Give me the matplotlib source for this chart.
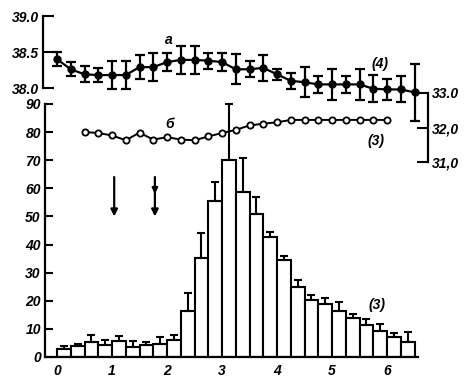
import matplotlib
matplotlib.use("Agg")
from matplotlib import pyplot as plt
import numpy as np

# bars (3): counts per quarter-unit interval, with upper error
bar_left = np.arange(26) * 0.25
bar_height = [3.0, 3.8, 5.2, 4.4, 5.8, 3.5, 4.2, 4.7, 6.2, 16.3, 35.3, 55.5, 70.0,
              58.8, 51.0, 42.8, 34.4, 24.8, 20.3, 18.7, 16.3, 13.7, 11.4, 9.1, 7.0, 5.2]
bar_err = [1.0, 1.0, 2.6, 1.8, 1.5, 2.1, 1.0, 2.4, 1.6, 6.4, 8.7, 6.7, 20.0,
           12.1, 6.0, 1.7, 1.6, 2.5, 1.6, 2.2, 3.2, 1.5, 2.0, 2.5, 1.7, 3.6]

# curve a (4): left upper scale, 38-39
a_x = np.arange(27) * 0.25
a_y = [38.40, 38.26, 38.19, 38.18, 38.18, 38.18, 38.29, 38.29, 38.36, 38.39, 38.39,
       38.38, 38.36, 38.26, 38.26, 38.28, 38.19, 38.10, 38.08, 38.05, 38.05, 38.05,
       38.05, 37.99, 37.98, 37.98, 37.94]
a_err = [0.10, 0.10, 0.11, 0.10, 0.19, 0.20, 0.17, 0.19, 0.12, 0.19, 0.20, 0.11,
         0.12, 0.21, 0.11, 0.18, 0.08, 0.11, 0.21, 0.12, 0.22, 0.12, 0.21, 0.19,
         0.14, 0.18, 0.40]

# curve b (3): right scale, 31-33
b_x = 0.5 + np.arange(23) * 0.25
b_y = [31.87, 31.84, 31.77, 31.63, 31.85, 31.65, 31.72, 31.65, 31.63, 31.74, 31.84,
       31.93, 32.06, 32.11, 32.15, 32.22, 32.22, 32.22, 32.22, 32.22, 32.22, 32.22, 32.22]

arrow_x = [1.04, 1.78]

W, H = 466, 379
X0, PX = 57, 55.0   # pixel of x=0, pixels per unit
font = dict(family="Liberation Sans", style="italic", weight="bold", size=10)


def add_ax(left, right, top, bottom):
    ax = fig.add_axes([left / W, 1 - bottom / H, (right - left) / W, (bottom - top) / H])
    ax.set_xlim((left - X0) / PX, (right - X0) / PX)
    ax.patch.set_alpha(0)
    return ax


fig = plt.figure(figsize=(W / 100, H / 100), dpi=100)

# bottom panel
ax = add_ax(45, 418, 104, 357)
ax.set_ylim(0, 90)
ax.bar(bar_left, bar_height, width=0.25, align="edge", color="white",
       edgecolor="black", linewidth=1.5, zorder=2)
ax.errorbar(bar_left + 0.125, bar_height, yerr=[np.zeros(26), bar_err], fmt="none",
            ecolor="black", elinewidth=1.5, capsize=3, capthick=1.5, clip_on=False, zorder=3)
for s in ["top", "right"]:
    ax.spines[s].set_visible(False)
for s in ["left", "bottom"]:
    ax.spines[s].set_linewidth(1.6)
ax.set_yticks(range(0, 91, 10))
ax.set_xticks(range(0, 7))
ax.tick_params(axis="y", direction="in", length=6, width=1.5, pad=3)
ax.tick_params(axis="x", direction="in", length=0, width=1.5, pad=5)
for lab in ax.get_xticklabels() + ax.get_yticklabels():
    lab.set(**font)
for xa in arrow_x:
    ax.annotate("", xy=(xa, 49), xytext=(xa, 65),
                arrowprops=dict(arrowstyle="-|>", color="black", lw=1.6, mutation_scale=10))
ax.annotate("", xy=(arrow_x[1], 57), xytext=(arrow_x[1], 62),
            arrowprops=dict(arrowstyle="-|>", color="black", lw=1.6, mutation_scale=8))
ax.text(2.05, 83, "б", ha="center", va="center", **font)
ax.text(5.8, 77, "(3)", ha="center", va="center", **font)
ax.text(5.82, 18.5, "(3)", ha="center", va="center", **font)

# upper panel, curve a
ax1 = add_ax(43, 418, 16, 88)
ax1.set_ylim(38, 39)
ax1.errorbar(a_x, a_y, yerr=a_err, fmt="-o", color="black", ms=5, lw=1.6,
             elinewidth=1.6, capsize=3.5, capthick=1.6, clip_on=False)
for s in ["top", "right", "bottom"]:
    ax1.spines[s].set_visible(False)
ax1.spines["left"].set_linewidth(1.6)
ax1.set_xticks([])
ax1.set_yticks([38, 38.5, 39])
ax1.set_yticklabels(["38.0", "38.5", "39.0"])
ax1.tick_params(axis="y", direction="in", length=8, width=1.5, pad=3)
for lab in ax1.get_yticklabels():
    lab.set(**font)
ax1.text(2.04, 38.67, "a", ha="center", va="center", **font)
ax1.text(5.87, 38.33, "(4)", ha="center", va="center", **font)

# right scale, curve b
ax2 = add_ax(43, 428, 93, 162)
ax2.set_ylim(31, 33)
ax2.plot(b_x, b_y, "-o", color="black", ms=4.5, lw=1.4, mfc="white", mew=1.3, clip_on=False)
for s in ["top", "left", "bottom"]:
    ax2.spines[s].set_visible(False)
ax2.spines["right"].set_linewidth(1.6)
ax2.set_xticks([])
ax2.yaxis.tick_right()
ax2.set_yticks([31, 32, 33])
ax2.set_yticklabels(["31,0", "32,0", "33.0"])
ax2.tick_params(axis="y", direction="in", length=8, width=1.5, pad=3)
for lab in ax2.get_yticklabels():
    lab.set(**font)

fig.savefig("out.png", dpi=100)
